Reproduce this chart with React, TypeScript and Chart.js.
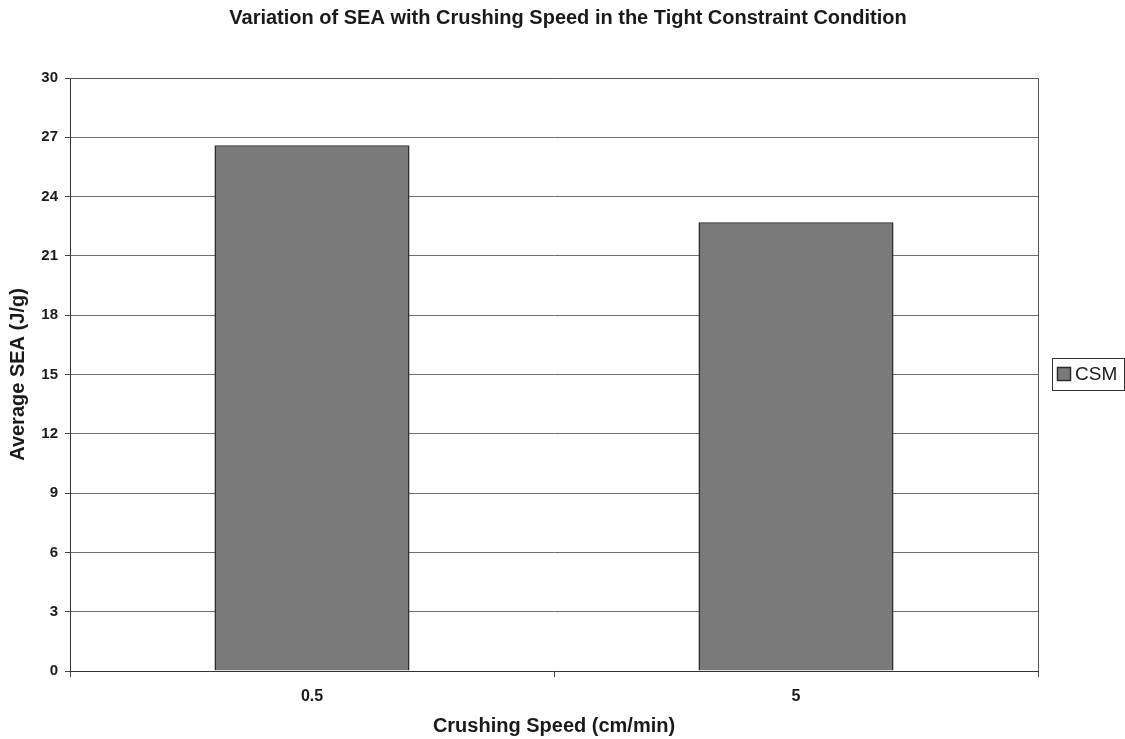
import React, { useEffect, useRef } from "react";
import { Chart, registerables } from "chart.js";

Chart.register(...registerables);

const chartTitle = "Variation of SEA with Crushing Speed in the Tight Constraint Condition";
const categories = ["0.5", "5"];
const seriesName = "CSM";
const seaValues = [26.6, 22.7];
const yTickMin = 0;
const yTickMax = 30;
const yTickStep = 3;
const xAxisTitle = "Crushing Speed (cm/min)";
const yAxisTitle = "Average SEA (J/g)";

const FONT = "'Liberation Sans', Arial, sans-serif";
const BAR_FILL = "#7a7a7a";
const BAR_EDGE = "#2a2a2a";

const frameAndLegend = {
  id: "frameAndLegend",
  afterDraw(chart: any) {
    const { ctx, chartArea } = chart;
    ctx.save();
    // plot border (top and right)
    ctx.strokeStyle = "#555";
    ctx.lineWidth = 1;
    ctx.beginPath();
    ctx.moveTo(chartArea.left, chartArea.top + 0.5);
    ctx.lineTo(chartArea.right + 0.5, chartArea.top + 0.5);
    ctx.lineTo(chartArea.right + 0.5, chartArea.bottom);
    ctx.stroke();
    // legend box
    const lx = 1052, ly = 358, lw = 72, lh = 32;
    ctx.strokeStyle = "#333";
    ctx.lineWidth = 1;
    ctx.strokeRect(lx + 0.5, ly + 0.5, lw, lh);
    ctx.fillStyle = BAR_FILL;
    ctx.fillRect(lx + 5, ly + 9, 14, 14);
    ctx.strokeStyle = BAR_EDGE;
    ctx.lineWidth = 1.5;
    ctx.strokeRect(lx + 5.5, ly + 9.5, 13, 13);
    ctx.fillStyle = "#1a1a1a";
    ctx.font = `19px ${FONT}`;
    ctx.textBaseline = "middle";
    ctx.textAlign = "left";
    ctx.fillText(seriesName, lx + 23, ly + lh / 2 + 1);
    ctx.restore();
  },
};

export default function App() {
  const ref = useRef<HTMLCanvasElement>(null);
  useEffect(() => {
    document.body.style.margin = "0";
    const chart = new Chart(ref.current as HTMLCanvasElement, {
      type: "bar",
      data: {
        labels: categories,
        datasets: [
          {
            label: seriesName,
            data: seaValues,
            backgroundColor: BAR_FILL,
            borderColor: BAR_EDGE,
            borderWidth: 1.5,
            categoryPercentage: 1,
            barPercentage: 0.403,
            yAxisID: "y",
          },
        ],
      },
      options: {
        animation: false,
        responsive: false,
        maintainAspectRatio: false,
        layout: { padding: { left: 11, right: 0, top: 0, bottom: 0 } },
        plugins: {
          legend: { display: false },
          tooltip: { enabled: false },
          title: {
            display: true,
            text: chartTitle,
            color: "#1a1a1a",
            font: { family: FONT, size: 20, weight: "bold", lineHeight: 1.2 },
            padding: { top: 6, bottom: 48 },
          },
        },
        scales: {
          x: {
            afterFit: (s: any) => { s.height = 68; },
            grid: {
              offset: true,
              drawOnChartArea: false,
              drawTicks: true,
              tickLength: 6,
              color: "#444",
            },
            border: { color: "#333", width: 1 },
            ticks: {
              color: "#1a1a1a",
              font: { family: FONT, size: 16, weight: "bold" },
              padding: 10,
            },
            title: {
              display: true,
              text: xAxisTitle,
              color: "#1a1a1a",
              font: { family: FONT, size: 20, weight: "bold", lineHeight: 1.2 },
              padding: { top: 0, bottom: 1 },
            },
          },
          y: {
            position: "left",
            min: yTickMin,
            max: yTickMax,
            afterFit: (s: any) => { s.width = 59; },
            grid: {
              color: "#6e6e6e",
              lineWidth: 1,
              drawTicks: true,
              tickLength: 5,
              tickColor: "#444",
            },
            border: { color: "#333", width: 1 },
            ticks: {
              stepSize: yTickStep,
              color: "#1a1a1a",
              font: { family: FONT, size: 15, weight: "bold" },
              padding: 7,
            },
            title: {
              display: true,
              text: yAxisTitle,
              color: "#1a1a1a",
              font: { family: FONT, size: 20, weight: "bold", lineHeight: 1.2 },
              padding: { top: -5, bottom: 0 },
            },
          },
          legendSpace: {
            type: "linear",
            position: "right",
            display: true,
            afterFit: (s: any) => { s.width = 87; },
            grid: { display: false, drawTicks: false },
            border: { display: false },
            ticks: { display: false },
          },
        },
      },
      plugins: [frameAndLegend],
    } as any);
    return () => chart.destroy();
  }, []);
  return (
    <div style={{ position: "relative", width: 1125, height: 739 }}>
      <canvas ref={ref} width={1125} height={739} style={{ display: "block" }} />
    </div>
  );
}
